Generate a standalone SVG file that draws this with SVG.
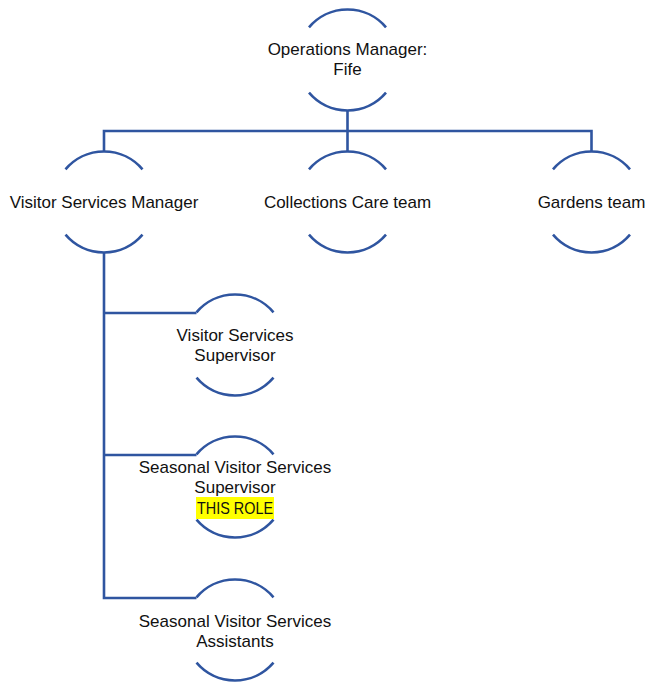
<svg xmlns="http://www.w3.org/2000/svg" width="645" height="682" viewBox="0 0 645 682">
<style>
.arc{fill:none;stroke:#2F55A0;stroke-width:2.6}
.con{fill:none;stroke:#2F55A0;stroke-width:2.6}
text{font-family:"Liberation Sans",Arial,sans-serif;font-size:17px;fill:#111;text-anchor:middle}
</style>
<rect width="645" height="682" fill="#fff"/>
<g id="connectors">
<path class="con" d="M347.5 110.5 V151.5 M104 131 H591.5 M104 129.7 V151.5 M591.5 129.7 V151.5 M104 252.5 V598 M102.7 313 H196.5 M102.7 455 H196.5 M102.7 598 H196.5"/>
</g>
<g id="n_ops">
<path class="arc" d="M309 27.3 a50.5 50.5 0 0 1 77 0 M309 92.7 a50.5 50.5 0 0 0 77 0"/>
<text x="347.5" y="55">Operations Manager:</text>
<text x="347.5" y="75">Fife</text>
</g>
<g id="n_vsm">
<path class="arc" d="M65.5 169.3 a50.5 50.5 0 0 1 77 0 M65.5 234.7 a50.5 50.5 0 0 0 77 0"/>
<text x="104" y="208">Visitor Services Manager</text>
</g>
<g id="n_cc">
<path class="arc" d="M309 169.3 a50.5 50.5 0 0 1 77 0 M309 234.7 a50.5 50.5 0 0 0 77 0"/>
<text x="347.5" y="208">Collections Care team</text>
</g>
<g id="n_gt">
<path class="arc" d="M553 169.3 a50.5 50.5 0 0 1 77 0 M553 234.7 a50.5 50.5 0 0 0 77 0"/>
<text x="591.5" y="208">Gardens team</text>
</g>
<g id="n_vss">
<path class="arc" d="M196.5 312.3 a50.5 50.5 0 0 1 77 0 M196.5 377.7 a50.5 50.5 0 0 0 77 0"/>
<text x="235" y="341">Visitor Services</text>
<text x="235" y="361">Supervisor</text>
</g>
<g id="n_svss">
<path class="arc" d="M196.5 454.3 a50.5 50.5 0 0 1 77 0 M196.5 519.7 a50.5 50.5 0 0 0 77 0"/>
<text x="235" y="473">Seasonal Visitor Services</text>
<text x="235" y="493">Supervisor</text>
<rect x="196" y="497" width="78" height="22" fill="#FFFF00"/>
<text x="235" y="514" textLength="76" lengthAdjust="spacingAndGlyphs">THIS ROLE</text>
</g>
<g id="n_svsa">
<path class="arc" d="M196.5 597.3 a50.5 50.5 0 0 1 77 0 M196.5 662.7 a50.5 50.5 0 0 0 77 0"/>
<text x="235" y="627">Seasonal Visitor Services</text>
<text x="235" y="647">Assistants</text>
</g>
</svg>
